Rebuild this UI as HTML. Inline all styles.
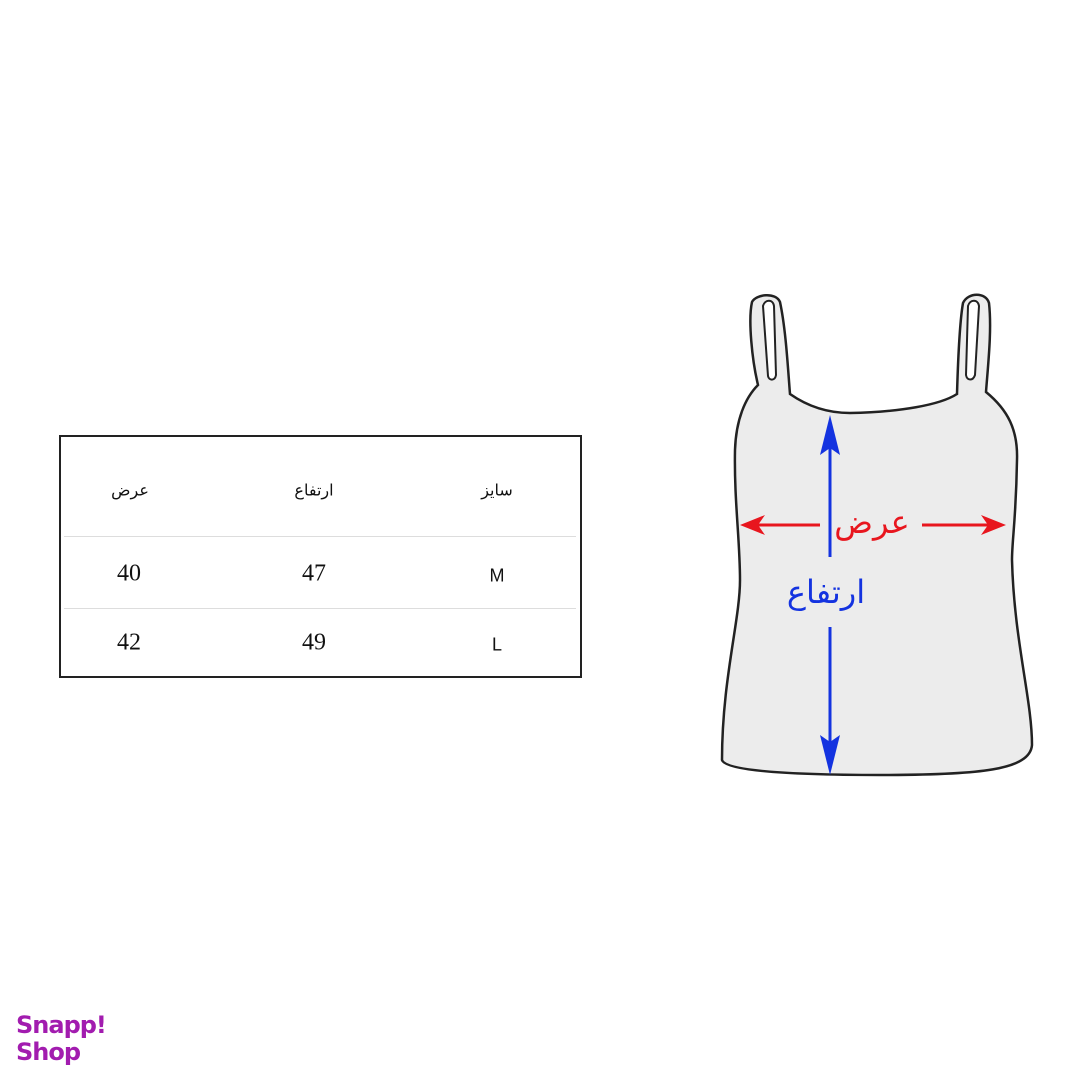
<!DOCTYPE html>
<html><head><meta charset="utf-8"><style>
html,body{margin:0;padding:0;background:#fff;width:1080px;height:1080px;overflow:hidden;position:relative;font-family:"Liberation Serif","Noto Serif CJK SC",serif}
.t{position:absolute;transform:translate(-50%,-50%);white-space:nowrap;color:#111}
</style></head><body>
<div style="position:absolute;left:59px;top:435px;width:519px;height:239px;border:2px solid #222"></div>
<div style="position:absolute;left:64px;top:536px;width:512px;height:1px;background:#ddd"></div>
<div style="position:absolute;left:64px;top:608px;width:512px;height:1px;background:#ddd"></div>
<div class="t" style="left:130px;top:490px;font-size:16px;font-family:'DejaVu Sans',sans-serif">عرض</div>
<div class="t" style="left:314px;top:490px;font-size:16px;font-family:'DejaVu Sans',sans-serif">ارتفاع</div>
<div class="t" style="left:497px;top:490px;font-size:16px;font-family:'DejaVu Sans',sans-serif">سایز</div>
<div class="t" style="left:129px;top:574px;font-size:24px">40</div>
<div class="t" style="left:314px;top:574px;font-size:24px">47</div>
<div class="t" style="left:497px;top:576px;font-size:18px;font-family:'Liberation Sans',sans-serif">M</div>
<div class="t" style="left:129px;top:643px;font-size:24px">42</div>
<div class="t" style="left:314px;top:643px;font-size:24px">49</div>
<div class="t" style="left:497px;top:645px;font-size:18px;font-family:'Liberation Sans',sans-serif">L</div>

<svg width="1080" height="1080" style="position:absolute;left:0;top:0">
<path d="M758,385 C752,360 748,320 752,302 C756,294 776,292 780,302 C786,330 788,370 790,394 C810,408 830,413 850,413 C900,412 940,405 957,394 C958,360 960,320 963,303 C968,292 986,292 989,303 C992,330 988,365 986,392 C1008,410 1018,430 1017,460 C1016,520 1012,540 1012,560 C1014,640 1032,700 1032,745 C1030,770 980,775 880,775 C780,775 725,770 722,760 C722,680 740,620 740,580 C740,540 734,500 735,450 C736,420 745,398 758,385 Z" fill="#ececec" stroke="#222" stroke-width="2.5"/>
<path d="M763,306 C765,299 773,299 774,306 L776,375 C775,381 769,381 768,376 Z" fill="#fff" stroke="#222" stroke-width="2"/>
<path d="M968,306 C970,299 978,299 979,306 L975,375 C973,381 967,381 966,375 Z" fill="#fff" stroke="#222" stroke-width="2"/>
<g stroke="#e8161e" stroke-width="3" fill="#e8161e">
<line x1="748" y1="525" x2="820" y2="525"/><polygon points="740,525 765,515 758,525 765,535" stroke="none"/>
<line x1="922" y1="525" x2="998" y2="525"/><polygon points="1006,525 981,515 988,525 981,535" stroke="none"/>
</g>
<g stroke="#1433e0" stroke-width="3" fill="#1433e0">
<line x1="830" y1="428" x2="830" y2="557"/><polygon points="830,415 820,455 830,448 840,455" stroke="none"/>
<line x1="830" y1="627" x2="830" y2="762"/><polygon points="830,775 820,735 830,742 840,735" stroke="none"/>
</g>
</svg>
<div class="t" style="left:872px;top:522px;font-size:32px;color:#e8161e;font-family:'DejaVu Sans',sans-serif">عرض</div>
<div class="t" style="left:826px;top:592px;font-size:32px;color:#1433e0;font-family:'DejaVu Sans',sans-serif">ارتفاع</div>
<div style="position:absolute;left:16px;top:1012px;color:#a21caf;font-family:'DejaVu Sans',sans-serif;font-weight:bold;font-size:24px;line-height:27px;letter-spacing:-1px">Snapp!<br>Shop</div>
</body></html>
